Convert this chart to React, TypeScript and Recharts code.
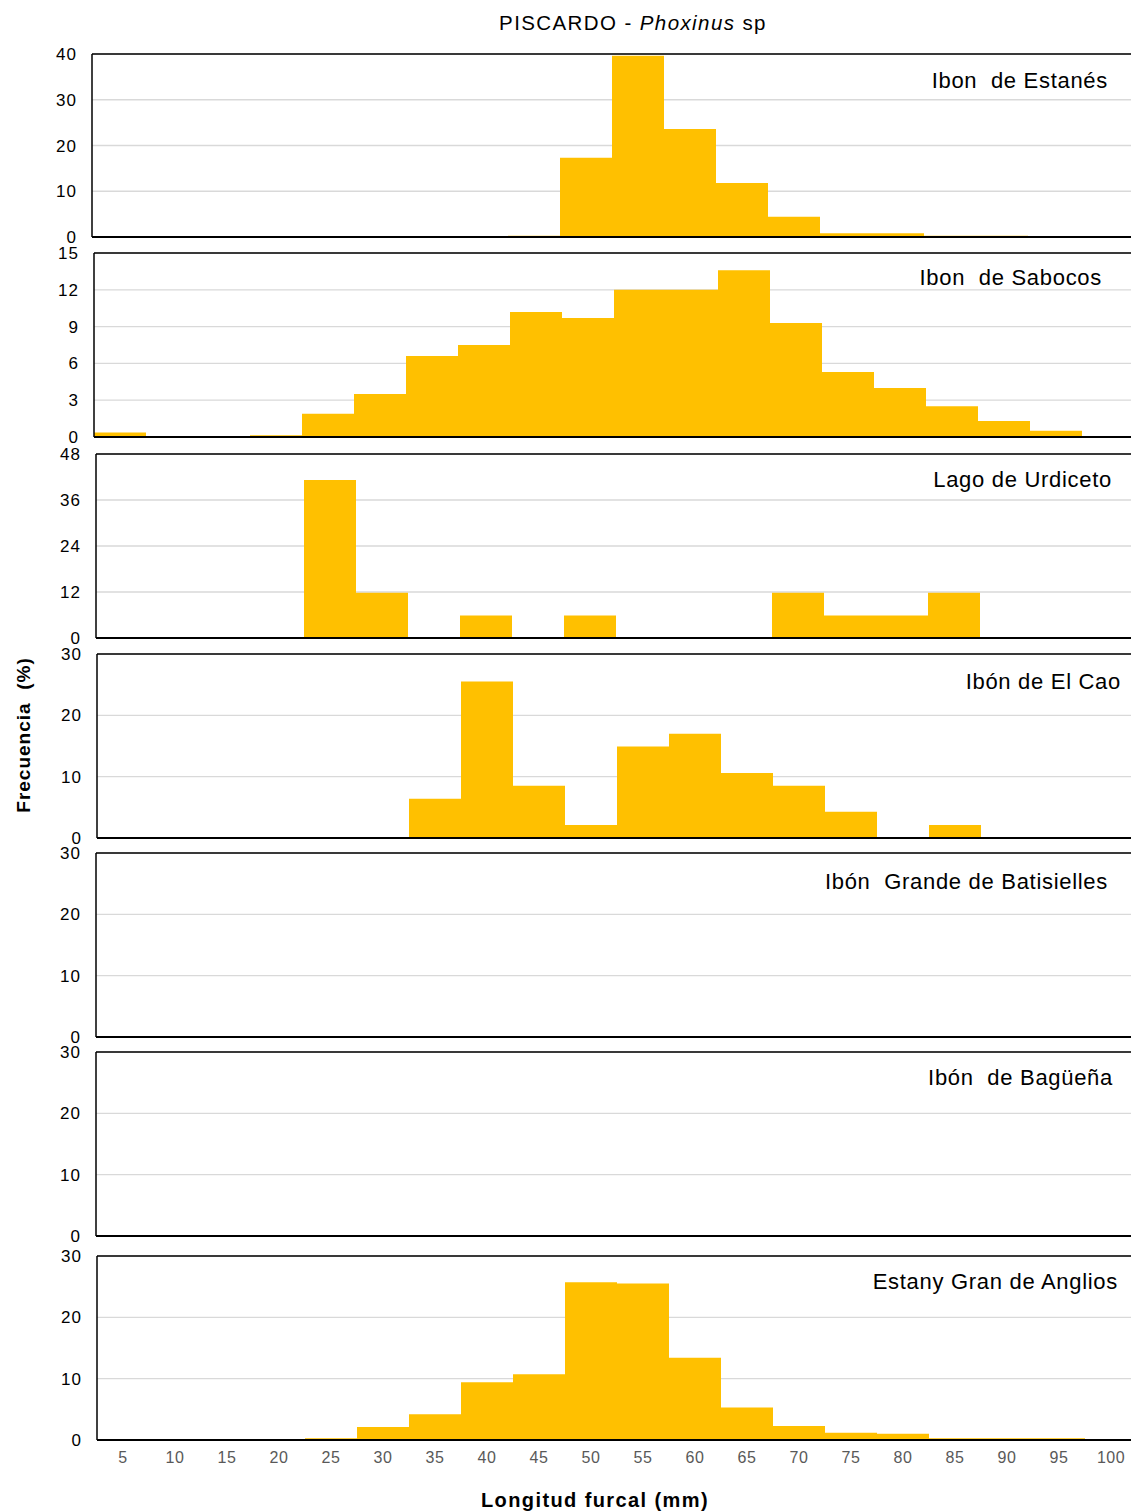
import React from 'react';
import { BarChart, Bar, XAxis, YAxis, CartesianGrid, ReferenceLine } from 'recharts';

const bins = ['5', '10', '15', '20', '25', '30', '35', '40', '45', '50', '55', '60', '65', '70', '75', '80', '85', '90', '95', '100'];

const estanes = [0, 0, 0, 0, 0, 0, 0, 0, 0.3, 17.3, 39.6, 23.6, 11.8, 4.4, 0.8, 0.8, 0.3, 0.3, 0, 0];
const sabocos = [0.36, 0, 0, 0.14, 1.9, 3.5, 6.6, 7.5, 10.2, 9.7, 12.0, 12.0, 13.6, 9.3, 5.3, 4.0, 2.5, 1.3, 0.5, 0];
const urdiceto = [0, 0, 0, 0, 41.2, 11.8, 0, 5.9, 0, 5.9, 0, 0, 0, 11.8, 5.9, 5.9, 11.8, 0, 0, 0];
const elCao = [0, 0, 0, 0, 0, 0, 6.4, 25.5, 8.5, 2.1, 14.9, 17.0, 10.6, 8.5, 4.3, 0, 2.1, 0, 0, 0];
const batisielles = [0, 0, 0, 0, 0, 0, 0, 0, 0, 0, 0, 0, 0, 0, 0, 0, 0, 0, 0, 0];
const baguena = [0, 0, 0, 0, 0, 0, 0, 0, 0, 0, 0, 0, 0, 0, 0, 0, 0, 0, 0, 0];
const anglios = [0, 0, 0, 0, 0.3, 2.1, 4.2, 9.4, 10.7, 25.7, 25.5, 13.4, 5.3, 2.3, 1.2, 1.0, 0.3, 0.3, 0.3, 0];

const lakeNames = ['Ibon  de Estanés', 'Ibon  de Sabocos', 'Lago de Urdiceto', 'Ibón de El Cao', 'Ibón  Grande de Batisielles', 'Ibón  de Bagüeña', 'Estany Gran de Anglios'];
const seriesList = [estanes, sabocos, urdiceto, elCao, batisielles, baguena, anglios];
const yMax = [40, 15, 48, 30, 30, 30, 30];
const yTicks = [
  [0, 10, 20, 30, 40],
  [0, 3, 6, 9, 12, 15],
  [0, 12, 24, 36, 48],
  [0, 10, 20, 30],
  [0, 10, 20, 30],
  [0, 10, 20, 30],
  [0, 10, 20, 30],
];

// layout (pixel positions) kept separate from data
const layout = [
  { top: 54, h: 183, left: 92, lx: 1108, ly: 87.5 },
  { top: 253, h: 184, left: 94, lx: 1102, ly: 285 },
  { top: 454, h: 184, left: 96, lx: 1112, ly: 486.5 },
  { top: 654, h: 184, left: 97, lx: 1121, ly: 688.5 },
  { top: 853, h: 184, left: 96, lx: 1108, ly: 888.5 },
  { top: 1052, h: 184, left: 96, lx: 1113, ly: 1084.5 },
  { top: 1256, h: 184, left: 97, lx: 1118, ly: 1288.5 },
];

const FONT = '"Liberation Sans", Arial, Helvetica, sans-serif';

function Panel({ values, max, ticks, top, h, left, showX }: any) {
  const data = bins.map((b, i) => ({ bin: b, v: values[i] }));
  const mt = 14;
  const xh = showX ? 34 : 2;
  const mb = showX ? 0 : 12;
  return (
    <div style={{ position: 'absolute', left: 0, top: top - mt }}>
      <BarChart
        width={left + 1045}
        height={mt + h + xh + mb}
        data={data}
        margin={{ top: mt, right: 5, left: 0, bottom: mb }}
        barCategoryGap={0}
        barGap={0}
      >
        <CartesianGrid vertical={false} stroke="#d9d9d9" strokeWidth={1.3} />
        <YAxis
          width={left}
          type="number"
          domain={[0, max]}
          ticks={ticks}
          interval={0}
          allowDataOverflow
          tickLine={false}
          tickSize={6}
          tickMargin={9}
          axisLine={{ stroke: '#000', strokeWidth: 1.5 }}
          tick={{ fill: '#000', fontSize: 17, fontFamily: FONT, letterSpacing: 1 }}
        />
        <Bar dataKey="v" fill="#FFC000" isAnimationActive={false} />
        <ReferenceLine y={max} stroke="#000" strokeWidth={1.5} />
        <XAxis
          dataKey="bin"
          type="category"
          interval={0}
          height={xh}
          tickLine={false}
          tickSize={6}
          tickMargin={6}
          axisLine={{ stroke: '#000', strokeWidth: 2 }}
          tick={showX ? { fill: '#595959', fontSize: 16, fontFamily: FONT, letterSpacing: 0.5 } : false}
        />
      </BarChart>
    </div>
  );
}

export default function App() {
  return (
    <div
      style={{
        position: 'absolute',
        left: 0,
        top: 0,
        width: 1131,
        height: 1512,
        overflow: 'hidden',
        background: '#fff',
        fontFamily: FONT,
      }}
    >
      {seriesList.map((vals, i) => (
        <Panel
          key={i}
          values={vals}
          max={yMax[i]}
          ticks={yTicks[i]}
          top={layout[i].top}
          h={layout[i].h}
          left={layout[i].left}
          showX={i === seriesList.length - 1}
        />
      ))}
      <svg
        width={1131}
        height={1512}
        style={{ position: 'absolute', left: 0, top: 0, pointerEvents: 'none' }}
      >
        <text x={633} y={30} textAnchor="middle" fontSize={20.5} fontFamily={FONT} fill="#000" letterSpacing={1.4} style={{ whiteSpace: 'pre' }}>
          PISCARDO - <tspan fontStyle="italic">Phoxinus</tspan> sp
        </text>
        {lakeNames.map((n, i) => (
          <text
            key={n}
            x={layout[i].lx}
            y={layout[i].ly}
            textAnchor="end"
            fontSize={22}
            fontFamily={FONT}
            fill="#000"
            letterSpacing={0.7}
            style={{ whiteSpace: 'pre' }}
          >
            {n}
          </text>
        ))}
        <text
          x={595}
          y={1506.5}
          textAnchor="middle"
          fontSize={20}
          fontWeight="bold"
          fontFamily={FONT}
          fill="#000"
          letterSpacing={1.4}
        >
          Longitud furcal (mm)
        </text>
        <text
          x={0}
          y={0}
          transform="translate(30,735) rotate(-90)"
          textAnchor="middle"
          fontSize={19}
          fontWeight="bold"
          fontFamily={FONT}
          fill="#000"
          letterSpacing={1}
          style={{ whiteSpace: 'pre' }}
        >
          Frecuencia  (%)
        </text>
      </svg>
    </div>
  );
}
